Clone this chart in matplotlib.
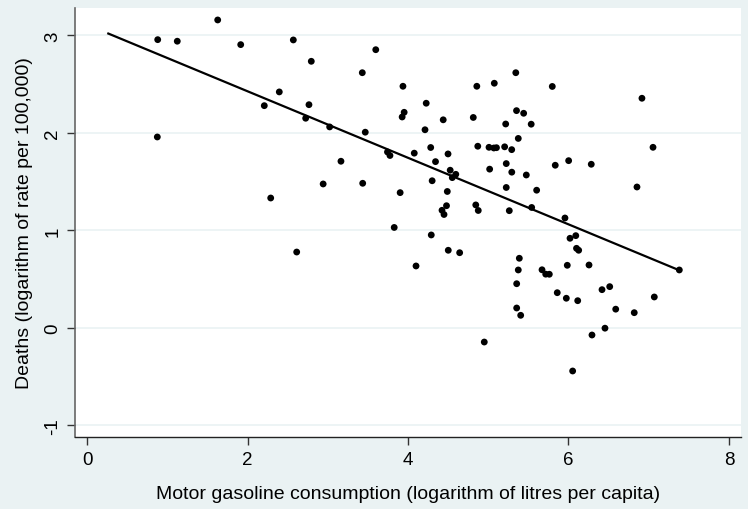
import numpy as np
import matplotlib
matplotlib.use("Agg")
import matplotlib.pyplot as plt
from matplotlib.ticker import FuncFormatter

# motor gasoline consumption (log litres per capita)
gasoline = [0.878, 1.122, 1.626, 1.913, 2.569, 2.793, 0.873, 2.207, 2.394, 2.764,
            2.723, 2.287, 3.022, 3.163, 2.941, 2.611, 3.597, 3.429, 3.936, 4.226,
            3.951, 3.926, 4.438, 4.211, 3.466, 3.743, 3.774, 4.077, 4.282, 4.498,
            4.342, 3.434, 3.901, 4.300, 4.525, 4.595, 4.551, 4.489, 4.479, 4.423,
            4.448, 4.844, 4.875, 3.827, 4.289, 4.501, 4.643, 4.099, 4.950, 4.857,
            5.075, 5.343, 5.798, 4.813, 5.352, 5.441, 5.217, 5.535, 5.374, 4.869,
            5.009, 5.069, 5.102, 5.204, 5.292, 5.017, 5.224, 5.293, 5.474, 5.224,
            5.603, 5.262, 5.541, 6.916, 7.054, 5.835, 6.002, 6.284, 6.854, 5.956,
            6.019, 6.091, 6.100, 6.127, 5.387, 5.374, 5.354, 5.354, 5.404, 5.670,
            5.716, 5.761, 5.985, 6.256, 5.860, 5.973, 6.115, 6.418, 6.514, 6.589,
            6.820, 7.070, 6.293, 6.455, 6.052, 7.382]
# road deaths (log rate per 100,000)
deaths = [2.957, 2.941, 3.159, 2.906, 2.954, 2.735, 1.959, 2.280, 2.421, 2.290,
          2.151, 1.333, 2.062, 1.710, 1.477, 0.779, 2.854, 2.618, 2.479, 2.305,
          2.212, 2.164, 2.135, 2.033, 2.008, 1.805, 1.769, 1.793, 1.851, 1.785,
          1.706, 1.484, 1.388, 1.510, 1.618, 1.576, 1.542, 1.400, 1.254, 1.207,
          1.164, 1.262, 1.205, 1.031, 0.954, 0.797, 0.772, 0.636, -0.144, 2.479,
          2.510, 2.618, 2.477, 2.159, 2.229, 2.202, 2.092, 2.090, 1.944, 1.864,
          1.853, 1.846, 1.849, 1.858, 1.829, 1.629, 1.686, 1.598, 1.569, 1.441,
          1.413, 1.203, 1.236, 2.356, 1.853, 1.669, 1.716, 1.679, 1.446, 1.128,
          0.920, 0.947, 0.817, 0.797, 0.715, 0.595, 0.454, 0.205, 0.130, 0.597,
          0.552, 0.551, 0.643, 0.646, 0.362, 0.305, 0.280, 0.393, 0.424, 0.193,
          0.157, 0.318, -0.072, -0.002, -0.441, 0.595]

# fitted line
fit_intercept = 3.109
fit_slope = -0.341
fit_range = [0.262, 7.382]

bg = "#EAF2F3"
plt.rcParams["font.family"] = ["Liberation Sans", "DejaVu Sans"]

fig = plt.figure(figsize=(7.48, 5.10), dpi=100, facecolor=bg)
ax = fig.add_axes([0.1003, 0.1406, 0.8899, 0.8424])
ax.set_facecolor("white")

ax.set_xlim(-0.153, 8.147)
ax.set_ylim(-1.121, 3.285)

for t in [-1, 0, 1, 2, 3]:
    ax.axhline(t, color=bg, lw=1.2, zorder=0)

ax.scatter(gasoline, deaths, s=24, color="black", edgecolors="none", zorder=3)
fx = np.array(fit_range)
ax.plot(fx, fit_intercept + fit_slope * fx, color="black", lw=1.6, zorder=2)

plain = FuncFormatter(lambda v, p: "%d" % v)
ax.set_xticks([0, 2, 4, 6, 8])
ax.set_yticks([-1, 0, 1, 2, 3])
ax.xaxis.set_major_formatter(plain)
ax.yaxis.set_major_formatter(plain)
ax.tick_params(axis="both", direction="out", length=6, width=1, color="#333333",
               labelsize=13.5, pad=4)
for lab in ax.get_yticklabels():
    lab.set_rotation(90)
    lab.set_va("center")

for s in ["top", "right"]:
    ax.spines[s].set_visible(False)
ax.spines["left"].set_color("#666666")
ax.spines["bottom"].set_color("#222222")
ax.spines["left"].set_linewidth(1.2)
ax.spines["bottom"].set_linewidth(1.0)

ax.set_xlabel("Motor gasoline consumption (logarithm of litres per capita)", fontsize=14, labelpad=12)
ax.set_ylabel("Deaths (logarithm of rate per 100,000)", fontsize=14, labelpad=8)

fig.savefig("out.png", dpi=100, facecolor=bg)
